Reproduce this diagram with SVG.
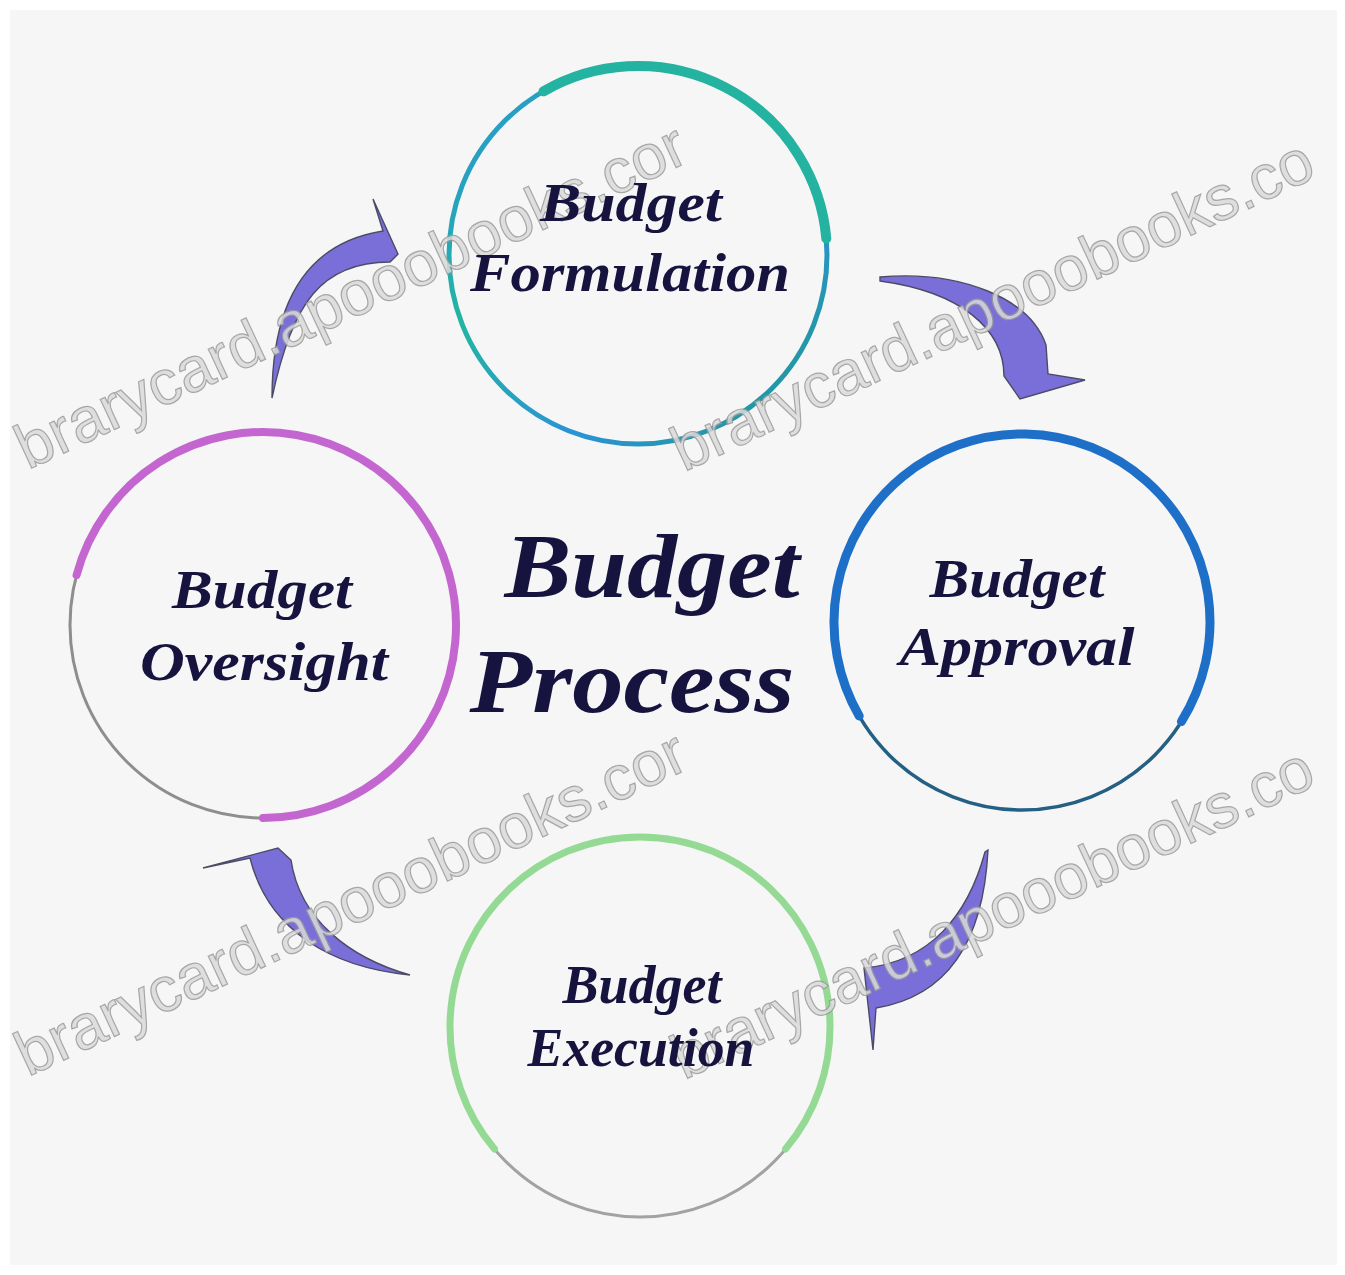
<svg xmlns="http://www.w3.org/2000/svg" width="1345" height="1275" viewBox="0 0 1345 1275">
  <defs>
    <style>
      .ring { fill: none; stroke-linecap: round; }
      .label { font-family: "Liberation Serif", "DejaVu Serif", serif; font-style: italic; font-weight: bold; fill: #16143f; text-anchor: middle; }
      .node-label { font-size: 54px; }
      .title { font-size: 90px; }
      .arrow { fill: #7a6fd8; stroke: #4b4b66; stroke-width: 1.4; stroke-linejoin: miter; }
      .wm { font-family: "Liberation Sans", Arial, sans-serif; font-size: 63px; fill: #dadada; stroke: #9a9a9a; stroke-width: 1.2; opacity: 0.85; }
    </style>
    <linearGradient id="gForm" x1="0" y1="0" x2="1" y2="1">
      <stop offset="0" stop-color="#2b8fdc"/>
      <stop offset="0.35" stop-color="#23b5a2"/>
      <stop offset="0.65" stop-color="#2a93d6"/>
      <stop offset="1" stop-color="#1f9a84"/>
    </linearGradient>
  </defs>

  <rect x="0" y="0" width="1345" height="1275" fill="#ffffff"/>
  <rect x="10" y="10" width="1327" height="1255" fill="#f6f6f6"/>

  <!-- Nodes: rings -->
  <g id="node-formulation">
    <circle class="ring" cx="638" cy="255" r="189" stroke="url(#gForm)" stroke-width="5"/>
    <path class="ring" d="M 543.5 91.3 A 189 189 0 0 1 826.3 238.5" stroke="#24b3a0" stroke-width="10"/>
  </g>
  <g id="node-approval">
    <circle class="ring" cx="1022" cy="622" r="188" stroke="#245f84" stroke-width="3.5"/>
    <path class="ring" d="M 859.2 716 A 188 188 0 1 1 1181.4 721.6" stroke="#1e6fc8" stroke-width="9"/>
  </g>
  <g id="node-oversight">
    <circle class="ring" cx="263" cy="625" r="193" stroke="#8e8e8e" stroke-width="3"/>
    <path class="ring" d="M 76.6 575 A 193 193 0 1 1 263 818" stroke="#c466cf" stroke-width="8"/>
  </g>
  <g id="node-execution">
    <circle class="ring" cx="640" cy="1027" r="190" stroke="#a2a2a2" stroke-width="3"/>
    <path class="ring" d="M 785.5 1149.1 A 190 190 0 1 0 494.5 1149.1" stroke="#94da94" stroke-width="7"/>
  </g>

  <!-- Connectors -->
  <g id="connectors">
    <path class="arrow" d="M 272 398 C 272 320, 295 245, 383 231 L 373 199 L 398 254 L 390 262 C 322 262, 292 302, 272 398 Z"/>
    <path class="arrow" d="M 880 277 C 960 270, 1030 298, 1046 345 L 1048 374 L 1085 380 L 1020 399 L 1004 376 C 1004 330, 962 292, 880 281 Z"/>
    <path class="arrow" d="M 988 850 C 984 930, 955 995, 876 1008 L 873 1050 L 864 968 C 930 962, 968 915, 985 852 Z"/>
    <path class="arrow" d="M 410 975 C 330 967, 268 930, 250 858 L 203 868 L 278 848 L 291 860 C 300 920, 350 958, 410 975 Z"/>
  </g>

  <!-- Watermarks -->
  <g id="watermarks">
    <text class="wm" transform="translate(28 470) rotate(-25)">brarycard.apooobooks.cor</text>
    <text class="wm" transform="translate(28 1077) rotate(-25)">brarycard.apooobooks.cor</text>
    <text class="wm" transform="translate(684 472) rotate(-25)" textLength="700" lengthAdjust="spacingAndGlyphs">brarycard.apooobooks.co</text>
    <text class="wm" transform="translate(684 1080) rotate(-25)" textLength="700" lengthAdjust="spacingAndGlyphs">brarycard.apooobooks.co</text>
  </g>

  <!-- Labels -->
  <g id="label-formulation">
    <text class="label node-label" x="631" y="221" textLength="182" lengthAdjust="spacingAndGlyphs">Budget</text>
    <text class="label node-label" x="630" y="291" textLength="320" lengthAdjust="spacingAndGlyphs">Formulation</text>
  </g>
  <g id="label-approval">
    <text class="label node-label" x="1017" y="597" textLength="175" lengthAdjust="spacingAndGlyphs">Budget</text>
    <text class="label node-label" x="1017" y="665" textLength="235" lengthAdjust="spacingAndGlyphs">Approval</text>
  </g>
  <g id="label-oversight">
    <text class="label node-label" x="262" y="608" textLength="180" lengthAdjust="spacingAndGlyphs">Budget</text>
    <text class="label node-label" x="264" y="680" textLength="248" lengthAdjust="spacingAndGlyphs">Oversight</text>
  </g>
  <g id="label-execution">
    <text class="label node-label" x="642" y="1003" textLength="159" lengthAdjust="spacingAndGlyphs">Budget</text>
    <text class="label node-label" x="641" y="1066" textLength="227" lengthAdjust="spacingAndGlyphs">Execution</text>
  </g>
  <g id="center-title">
    <text class="label title" x="652" y="597" textLength="295" lengthAdjust="spacingAndGlyphs">Budget</text>
    <text class="label title" x="632" y="712" textLength="325" lengthAdjust="spacingAndGlyphs">Process</text>
  </g>
</svg>
